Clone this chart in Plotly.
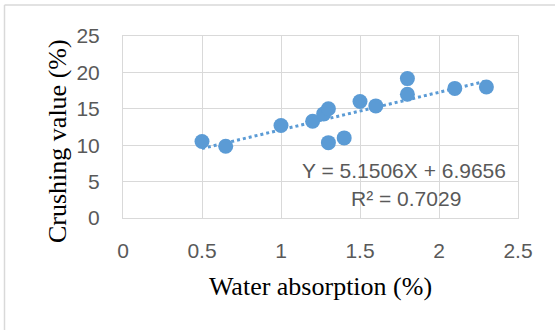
import plotly.graph_objects as go

# Data
water_absorption = [0.5, 0.65, 1.0, 1.2, 1.27, 1.3, 1.3, 1.4, 1.5, 1.6, 1.8, 1.8, 2.1, 2.3]
crushing_value = [10.5, 9.85, 12.7, 13.3, 14.3, 15.0, 10.35, 11.0, 16.0, 15.4, 19.15, 17.0, 17.8, 18.0]
slope = 5.1506
intercept = 6.9656
r_squared = 0.7029
x_ticks = [0, 0.5, 1, 1.5, 2, 2.5]
x_tick_labels = ["0", "0.5", "1", "1.5", "2", "2.5"]
y_ticks = [0, 5, 10, 15, 20, 25]
y_tick_labels = ["0", "5", "10", "15", "20", "25"]

W, H = 555, 330
ML, MR, MT, MB = 123, 37, 36, 112
PW, PH = W - ML - MR, H - MT - MB

blue = "#5B9BD5"
grid = "#D9D9D9"
tick_font = dict(family="Liberation Sans, Arial, sans-serif", size=21, color="#595959")
title_font = dict(family="Liberation Serif, Times New Roman, serif", size=26, color="#000000")


def px_x(p):
    return (p - ML) / PW


def px_y(p):
    return (H - MB - p) / PH


xmin, xmax = min(water_absorption), max(water_absorption)
trend_x = [xmin, xmax]
trend_y = [slope * v + intercept for v in trend_x]

fig = go.Figure()
fig.add_trace(go.Scatter(x=trend_x, y=trend_y, mode="lines",
                         line=dict(color=blue, width=3, dash="dot"),
                         showlegend=False, hoverinfo="skip"))
fig.add_trace(go.Scatter(x=water_absorption, y=crushing_value, mode="markers",
                         marker=dict(color=blue, size=15, line=dict(width=0)),
                         showlegend=False))

fig.update_xaxes(range=[0, 2.5], tickvals=x_ticks, ticktext=x_tick_labels,
                 showgrid=True, gridcolor=grid, gridwidth=1, zeroline=False,
                 showline=True, linecolor=grid, linewidth=1, mirror=True,
                 ticks="outside", ticklen=14, tickcolor="rgba(0,0,0,0)",
                 tickfont=tick_font, automargin=False,
                 title=dict(text="Water absorption (%)", font=title_font, standoff=15))
fig.update_yaxes(range=[0, 25], tickvals=y_ticks, ticktext=y_tick_labels,
                 showgrid=True, gridcolor=grid, gridwidth=1, zeroline=False,
                 showline=True, linecolor=grid, linewidth=1, mirror=True,
                 ticks="outside", ticklen=18, tickcolor="rgba(0,0,0,0)",
                 tickfont=tick_font, automargin=False)

# Y axis title (placed slightly below plot centre, as in the reference)
fig.add_annotation(x=px_x(57), y=px_y(141), xref="paper", yref="paper",
                   xanchor="center", yanchor="middle",
                   showarrow=False, textangle=-90, text="Crushing value (%)",
                   font=title_font)

# Trendline equation labels
eq_font = dict(family="Liberation Sans, Arial, sans-serif", size=21, color="#595959")
fig.add_annotation(x=1.78, y=6.55, xref="x", yref="y", showarrow=False,
                   text=f"Y = {slope}X + {intercept}", font=eq_font)
fig.add_annotation(x=1.79, y=2.7, xref="x", yref="y", showarrow=False,
                   text=f"R² = {r_squared}", font=eq_font)

# Outer chart-area border (cropped on the right/bottom in the reference)
fig.add_shape(type="line", xref="paper", yref="paper",
              x0=px_x(4.5), x1=px_x(W + 5), y0=px_y(5), y1=px_y(5),
              line=dict(color=grid, width=1.5))
fig.add_shape(type="line", xref="paper", yref="paper",
              x0=px_x(4.5), x1=px_x(4.5), y0=px_y(5), y1=px_y(H + 5),
              line=dict(color=grid, width=1.5))

fig.update_layout(width=W, height=H, margin=dict(l=ML, r=MR, t=MT, b=MB),
                  paper_bgcolor="white", plot_bgcolor="white")

fig.write_html("out.html", config={"displayModeBar": False},
               post_script="document.body.style.margin='0';")
